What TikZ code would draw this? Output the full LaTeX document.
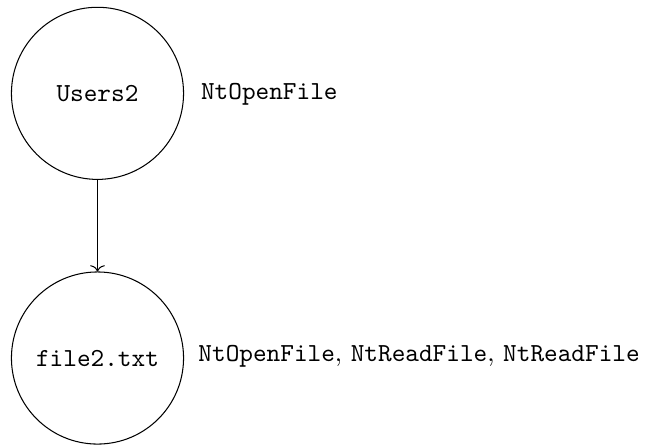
\documentclass[tikz,border=0pt]{standalone}
\usetikzlibrary{arrows.meta}

\tikzset{
  state/.style={circle, draw, minimum size=66.2pt, inner sep=0pt, font=\ttfamily},
  calls/.style={anchor=west, inner sep=3.33pt},
  flow/.style={-{To[width=5.6pt,length=2.4pt]}, draw=black}
}

\begin{document}
\begin{tikzpicture}[x=1pt, y=1pt]
  \useasboundingbox (0,0) rectangle (250,-171.15);

  % the two objects
  \node[state] (users) at (37.5,-35.9) {Users2};
  \node[state] (file)  at (37.5,-137.7) {file2.txt};

  % system calls made on each object
  \node[calls] (usersCalls) at ([xshift=3pt,yshift=-0.3pt]users.east) {\texttt{NtOpenFile}};
  \node[calls] (fileCalls) at ([xshift=2pt,yshift=0.8pt]file.east)
    {\texttt{NtOpenFile}, \texttt{NtReadFile}, \texttt{NtReadFile}};

  % access order
  \draw[flow] (users) -- (file);
\end{tikzpicture}
\end{document}
